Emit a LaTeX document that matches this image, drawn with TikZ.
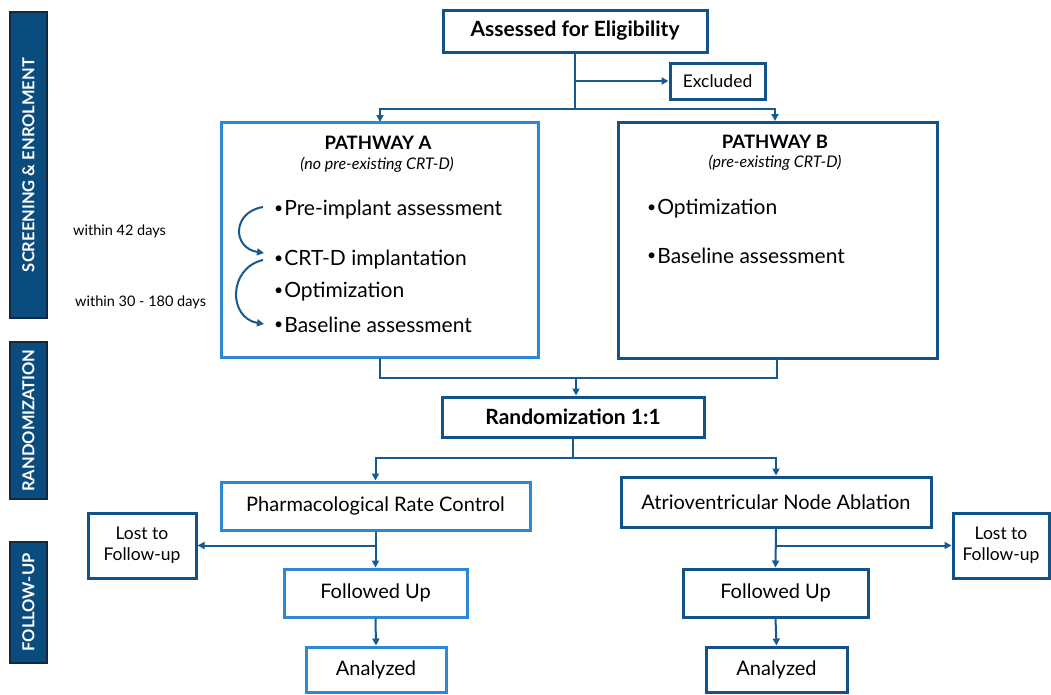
\documentclass[tikz,border=0pt]{standalone}
\usepackage{fontspec}
\setmainfont{Lato}
\usetikzlibrary{arrows.meta}
\definecolor{dblue}{RGB}{18,82,138}
\definecolor{lblue}{RGB}{46,136,214}
\definecolor{barfill}{RGB}{10,76,126}
\definecolor{barline}{RGB}{20,40,66}
\definecolor{arr}{RGB}{22,90,145}
\tikzset{
  dbox/.style={draw=dblue, line width=3pt, fill=white, inner sep=0pt, align=center, font=\fontsize{20}{24}\selectfont},
  lbox/.style={draw=lblue, line width=3pt, fill=white, inner sep=0pt, align=center, font=\fontsize{20}{24}\selectfont},
  smallbox/.style={font=\fontsize{17.5}{21}\selectfont},
  bar/.style={draw=barline, line width=1.5pt, fill=barfill, inner sep=0pt},
  bartext/.style={text=white, rotate=90, font=\fontsize{16.5}{20}\selectfont\bfseries},
  conn/.style={draw=arr, line width=2pt},
  arrow/.style={conn, -{Triangle[length=7pt,width=7pt]}},
  bul/.style={anchor=west, font=\fontsize{21}{24}\selectfont, inner sep=0pt},
  ttl/.style={font=\fontsize{18.5}{22}\selectfont\bfseries},
  sub/.style={font=\fontsize{16}{18}\selectfont\itshape},
  note/.style={anchor=west, font=\fontsize{14.5}{16}\selectfont, inner sep=0pt}
}
\newcommand{\bt}{\raisebox{0.25ex}{\scalebox{0.75}{\textbullet}}\hspace{1pt}}
\begin{document}
\begin{tikzpicture}[x=1pt,y=-1pt]
\useasboundingbox (0,0) rectangle (1051,694);
% side bars
\node[bar, minimum width=37pt, minimum height=306pt] (bar1) at (28.5,165) {};
\node[bartext] at (bar1.center) {SCREENING \& ENROLMENT};
\node[bar, minimum width=37pt, minimum height=157pt] (bar2) at (28.5,420.5) {};
\node[bartext] at (bar2.center) {RANDOMIZATION};
\node[bar, minimum width=37pt, minimum height=121pt] (bar3) at (28.5,602.5) {};
\node[bartext] at (bar3.center) {FOLLOW-UP};
% notes
\node[note] (n42) at (73,231) {within 42 days};
\node[note] (n180) at (75,302) {within 30 - 180 days};
% top
\node[dbox, minimum width=264pt, minimum height=42pt, font=\fontsize{21}{24}\selectfont\bfseries] (elig) at (575,31) {Assessed for Eligibility};
\node[dbox, smallbox, minimum width=95pt, minimum height=36pt] (excl) at (717.5,81) {Excluded};
% pathways
\node[lbox, minimum width=317pt, minimum height=235pt] (pa) at (379.5,240) {};
\node[ttl] (pat) at (378,143) {PATHWAY A};
\node[sub] (pas) at (377,165) {(no pre-existing CRT-D)};
\node[bul] (a1) at (274,210) {\bt Pre-implant assessment};
\node[bul] (a2) at (274,260) {\bt CRT-D implantation};
\node[bul] (a3) at (274,292) {\bt Optimization};
\node[bul] (a4) at (274,325) {\bt Baseline assessment};
\node[dbox, minimum width=319pt, minimum height=236pt] (pb) at (777.5,240) {};
\node[ttl] (pbt) at (775,142) {PATHWAY B};
\node[sub] (pbs) at (775,163) {(pre-existing CRT-D)};
\node[bul] (b1) at (647,209) {\bt Optimization};
\node[bul] (b2) at (647,256) {\bt Baseline assessment};
% curved arrows
\coordinate (c1s) at (263,207);
\coordinate (c1e) at (264,253);
\coordinate (c2s) at (263,260);
\coordinate (c2e) at (264,324);
\draw[arrow] (c1s) .. controls (232,212) and (232,248) .. (c1e);
\draw[arrow] (c2s) .. controls (228,268) and (228,318) .. (c2e);
% randomization
\node[dbox, minimum width=262pt, minimum height=40pt, font=\fontsize{21}{24}\selectfont\bfseries] (rand) at (573,417) {Randomization 1:1};
% arms
\node[lbox, minimum width=309pt, minimum height=48pt] (pharm) at (375.5,506) {Pharmacological Rate Control};
\node[dbox, minimum width=310pt, minimum height=50pt] (avn) at (776,502) {Atrioventricular Node Ablation};
\node[dbox, smallbox, minimum width=108pt, minimum height=65pt] (lostl) at (142,545.5) {Lost to\\Follow-up};
\node[dbox, smallbox, minimum width=96pt, minimum height=65pt] (lostr) at (1001,545.5) {Lost to\\Follow-up};
\node[lbox, minimum width=183pt, minimum height=48pt] (ful) at (375.5,593) {Followed Up};
\node[dbox, minimum width=185pt, minimum height=48pt] (fur) at (775.5,593) {Followed Up};
\node[lbox, minimum width=140pt, minimum height=45pt] (anl) at (376,669.5) {Analyzed};
\node[dbox, minimum width=141pt, minimum height=45pt] (anr) at (776.5,669.5) {Analyzed};
% connectors top
\coordinate (j1) at (575,109);
\draw[conn] (elig.south) -- (j1);
\draw[arrow] (elig.south |- excl.west) -- (excl.west);
\draw[arrow] (j1) -| (380,122) coordinate (paT);
\draw[arrow] (j1) -| (775,121) coordinate (pbT);
% to randomization
\coordinate (j2) at (576,378);
\draw[conn] (380,358) |- (j2);
\draw[conn] (777,358) |- (j2);
\draw[arrow] (j2) -- (rand.north -| j2);
% randomization to arms
\coordinate (j3) at (573,458);
\draw[conn] (rand.south) -- (j3);
\draw[arrow] (j3) -| (pharm.north);
\draw[arrow] (j3) -| (avn.north);
% follow-up left
\draw[arrow] (pharm.south) -- (ful.north);
\draw[arrow] (pharm.south |- lostl.east) -- (lostl.east);
\draw[arrow] (ful.south) -- (anl.north);
% right
\draw[arrow] (avn.south) -- (fur.north);
\draw[arrow] (avn.south |- lostr.west) -- (lostr.west);
\draw[arrow] (fur.south) -- (anr.north);
\end{tikzpicture}
\end{document}
